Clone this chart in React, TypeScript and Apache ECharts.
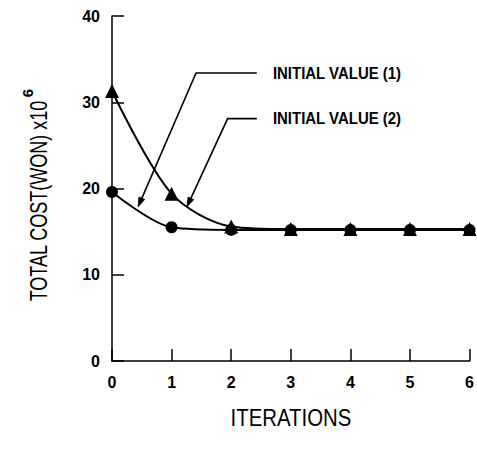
import React, { useEffect, useRef } from "react";
import * as echarts from "echarts";

// ---- data ----
const iterations = [0, 1, 2, 3, 4, 5, 6];
const initialValue1 = [19.6, 15.5, 15.2, 15.2, 15.2, 15.2, 15.2]; // circles
const initialValue2 = [31.3, 19.4, 15.6, 15.3, 15.3, 15.3, 15.3]; // triangles
const yMin = 0;
const yMax = 40;
const yInterval = 10;
const xMin = 0;
const xMax = 6;
const annotationLabels = ["INITIAL VALUE (1)", "INITIAL VALUE (2)"];
const yTitle = "TOTAL COST(WON) x10";
const yTitleExp = "6";
const xTitle = "ITERATIONS";

// annotation leader lines, expressed in data coordinates
const leaderTips = [
  [0.44, 17.9],
  [1.26, 17.9],
];
const leaderElbows = [
  [1.41, 33.4],
  [1.94, 28.1],
];
const leaderEnds = [
  [2.43, 33.4],
  [2.43, 28.1],
];
const labelStartX = 2.7;

const FONT = "'Liberation Sans', Arial, sans-serif";

export default function App() {
  const ref = useRef<HTMLDivElement>(null);

  useEffect(() => {
    if (!ref.current) return;
    const chart = echarts.init(ref.current, undefined, { renderer: "svg" });

    const option: any = {
      animation: false,
      backgroundColor: "#ffffff",
      grid: { left: 112, right: 7, top: 16, bottom: 94, containLabel: false },
      xAxis: {
        type: "value",
        min: xMin,
        max: xMax,
        interval: 1,
        axisLine: { show: true, lineStyle: { color: "#000", width: 1.5 } },
        axisTick: { show: true, inside: true, length: 12, lineStyle: { color: "#000", width: 1.5 } },
        axisLabel: {
          color: "#000",
          fontFamily: FONT,
          fontWeight: "bold",
          fontSize: 16,
          margin: 13,
        },
        splitLine: { show: false },
      },
      yAxis: {
        type: "value",
        min: yMin,
        max: yMax,
        interval: yInterval,
        axisLine: { show: true, lineStyle: { color: "#000", width: 1.5 } },
        axisTick: { show: true, inside: true, length: 12, lineStyle: { color: "#000", width: 1.5 } },
        axisLabel: {
          color: "#000",
          fontFamily: FONT,
          fontWeight: "bold",
          fontSize: 16,
          margin: 12,
        },
        splitLine: { show: false },
      },
      series: [
        {
          name: annotationLabels[0],
          type: "line",
          smooth: 0.3,
          data: iterations.map((x, i) => [x, initialValue1[i]]),
          symbol: "circle",
          symbolSize: 12,
          itemStyle: { color: "#000" },
          lineStyle: { color: "#000", width: 2 },
          z: 3,
        },
        {
          name: annotationLabels[1],
          type: "line",
          smooth: 0.3,
          data: iterations.map((x, i) => [x, initialValue2[i]]),
          symbol: "triangle",
          symbolSize: 14,
          itemStyle: { color: "#000" },
          lineStyle: { color: "#000", width: 2 },
          z: 4,
        },
      ],
    };
    chart.setOption(option);

    const px = (p: number[]) => chart.convertToPixel({ gridIndex: 0 }, p) as number[];
    const elements: any[] = [];

    annotationLabels.forEach((label, i) => {
      const tip = px(leaderTips[i]);
      const elbow = px(leaderElbows[i]);
      const end = px(leaderEnds[i]);
      const dx = tip[0] - elbow[0];
      const dy = tip[1] - elbow[1];
      const len = Math.sqrt(dx * dx + dy * dy);
      const ux = dx / len;
      const uy = dy / len;
      const headL = 9;
      const headW = 3;
      const bx = tip[0] - ux * headL;
      const by = tip[1] - uy * headL;
      elements.push({
        type: "polyline",
        shape: { points: [end, elbow, [bx, by]] },
        style: { stroke: "#000", lineWidth: 1.6, fill: null },
        z: 10,
      });
      elements.push({
        type: "polygon",
        shape: {
          points: [
            tip,
            [bx - uy * headW, by + ux * headW],
            [bx + uy * headW, by - ux * headW],
          ],
        },
        style: { fill: "#000", stroke: "#000", lineWidth: 1 },
        z: 10,
      });
      const tp = px([labelStartX, leaderEnds[i][1]]);
      elements.push({
        type: "text",
        x: tp[0],
        y: tp[1],
        scaleX: 0.88,
        style: {
          text: label,
          font: `bold 17px ${FONT}`,
          fill: "#000",
          align: "left",
          verticalAlign: "middle",
        },
        z: 10,
      });
    });

    // y-axis title (rotated) with superscript exponent
    elements.push({
      type: "text",
      x: 39,
      y: 201,
      rotation: Math.PI / 2,
      scaleX: 0.75,
      style: {
        text: yTitle,
        font: `24px ${FONT}`,
        fill: "#000",
        align: "center",
        verticalAlign: "middle",
      },
    });
    elements.push({
      type: "text",
      x: 27,
      y: 93,
      rotation: Math.PI / 2,
      style: {
        text: yTitleExp,
        font: `bold 15px ${FONT}`,
        fill: "#000",
        align: "center",
        verticalAlign: "middle",
      },
    });
    // x-axis title
    elements.push({
      type: "text",
      x: 291,
      y: 418,
      scaleX: 0.85,
      style: {
        text: xTitle,
        font: `24px ${FONT}`,
        fill: "#000",
        align: "center",
        verticalAlign: "middle",
      },
    });

    chart.setOption({ graphic: { elements } });

    return () => chart.dispose();
  }, []);

  return <div ref={ref} style={{ width: 477, height: 455, position: "absolute", left: 0, top: 0 }} />;
}
